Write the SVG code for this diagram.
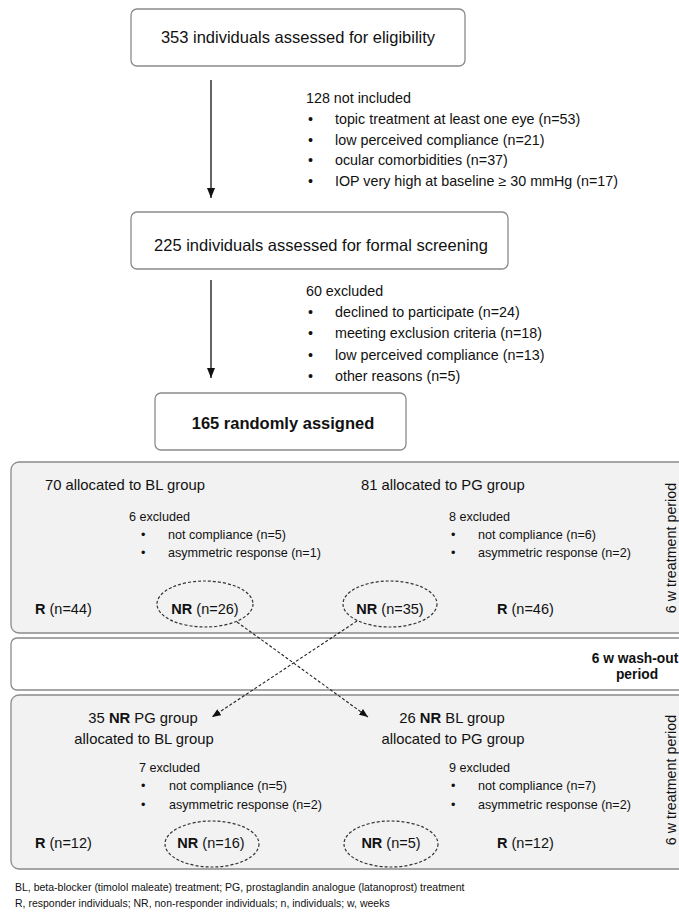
<svg xmlns="http://www.w3.org/2000/svg" width="679" height="912" viewBox="0 0 679 912">
<style>
text{font-family:"Liberation Sans",Arial,sans-serif;fill:#111}
.box{fill:#fff;stroke:#8a8a8a;stroke-width:1.3}
.gbox{fill:#f2f2f2;stroke:#8a8a8a;stroke-width:1.3}
.big{font-size:16.5px}
.sub{font-size:14.3px}
.grp{font-size:14.8px}
.exc{font-size:12.6px}
.rn{font-size:14.5px}
.foot{font-size:10.5px}
.b{font-weight:bold}
.mid{text-anchor:middle}
.ell{fill:none;stroke:#333;stroke-width:1.2;stroke-dasharray:3 2}
.solid{stroke:#111;stroke-width:1.3;fill:none}
.dash{stroke:#222;stroke-width:1.1;fill:none;stroke-dasharray:3 2}
</style>
<defs>
<marker id="ah" markerUnits="userSpaceOnUse" viewBox="0 0 10 8" markerWidth="10" markerHeight="8" refX="10" refY="4" orient="auto">
<path d="M0,0 L10,4 L0,8 z" fill="#111" stroke="none"/>
</marker>
<marker id="ah2" markerUnits="userSpaceOnUse" viewBox="0 0 10 8" markerWidth="9" markerHeight="7" refX="10" refY="4" orient="auto">
<path d="M0,0 L10,4 L0,8 z" fill="#111" stroke="none"/>
</marker>
</defs>

<g id="eligibility">
<rect class="box" x="131" y="9" width="334" height="57" rx="6"/>
<text class="big mid" x="298" y="43">353 individuals assessed for eligibility</text>
</g>

<g id="not-included">
<text class="sub" x="306" y="103">128 not included</text>
<text class="sub" x="308" y="124">•</text><text class="sub" x="335" y="124">topic treatment at least one eye (n=53)</text>
<text class="sub" x="308" y="144.5">•</text><text class="sub" x="335" y="144.5">low perceived compliance (n=21)</text>
<text class="sub" x="308" y="165">•</text><text class="sub" x="335" y="165">ocular comorbidities (n=37)</text>
<text class="sub" x="308" y="185.5">•</text><text class="sub" x="335" y="185.5">IOP very high at baseline ≥ 30 mmHg (n=17)</text>
</g>

<g id="screening">
<rect class="box" x="131" y="212" width="377" height="57" rx="6"/>
<text class="big mid" x="321" y="251">225 individuals assessed for formal screening</text>
</g>

<g id="excluded">
<text class="sub" x="306" y="295.5">60 excluded</text>
<text class="sub" x="308" y="317">•</text><text class="sub" x="335" y="317">declined to participate (n=24)</text>
<text class="sub" x="308" y="338">•</text><text class="sub" x="335" y="338">meeting exclusion criteria (n=18)</text>
<text class="sub" x="308" y="359.5">•</text><text class="sub" x="335" y="359.5">low perceived compliance (n=13)</text>
<text class="sub" x="308" y="381">•</text><text class="sub" x="335" y="381">other reasons (n=5)</text>
</g>

<g id="randomized">
<rect class="box" x="155" y="393" width="251" height="57" rx="6"/>
<text class="big b mid" x="283" y="429">165 randomly assigned</text>
</g>

<g id="period1">
<rect class="gbox" x="11" y="462" width="690" height="171" rx="8"/>
<text class="sub mid" transform="translate(676,548) rotate(-90)" x="0" y="0">6 w treatment period</text>
</g>

<g id="bl-group">
<text class="grp" x="45" y="490">70 allocated to BL group</text>
<text class="exc" x="129" y="521">6 excluded</text>
<text class="exc" x="141" y="539">•</text><text class="exc" x="168" y="539">not compliance (n=5)</text>
<text class="exc" x="141" y="557">•</text><text class="exc" x="168" y="557">asymmetric response (n=1)</text>
<text class="rn" x="35" y="614"><tspan class="b">R</tspan> (n=44)</text>
</g>
<g id="bl-nr">
<ellipse class="ell" cx="205" cy="604" rx="48" ry="23"/>
<text class="rn mid" x="205" y="614"><tspan class="b">NR</tspan> (n=26)</text>
</g>

<g id="pg-group">
<text class="grp" x="361" y="490">81 allocated to PG group</text>
<text class="exc" x="449" y="521">8 excluded</text>
<text class="exc" x="451" y="539">•</text><text class="exc" x="478" y="539">not compliance (n=6)</text>
<text class="exc" x="451" y="557">•</text><text class="exc" x="478" y="557">asymmetric response (n=2)</text>
<text class="rn" x="497" y="614"><tspan class="b">R</tspan> (n=46)</text>
</g>
<g id="pg-nr">
<ellipse class="ell" cx="390" cy="604" rx="47" ry="23"/>
<text class="rn mid" x="390" y="614"><tspan class="b">NR</tspan> (n=35)</text>
</g>

<g id="washout">
<rect class="box" x="11" y="638" width="690" height="52" rx="6"/>
<text class="sub b mid" x="635" y="663" style="font-size:13.8px">6 w wash-out</text>
<text class="sub b mid" x="637" y="679" style="font-size:13.8px">period</text>
</g>

<g id="period2">
<rect class="gbox" x="11" y="695" width="690" height="174" rx="8"/>
<text class="sub mid" transform="translate(676,780) rotate(-90)" x="0" y="0">6 w treatment period</text>
</g>

<g id="nr-pg-to-bl">
<text class="grp mid" x="143" y="723">35 <tspan class="b">NR</tspan> PG group</text>
<text class="grp mid" x="144" y="744">allocated to BL group</text>
<text class="exc" x="139" y="772">7 excluded</text>
<text class="exc" x="141" y="790">•</text><text class="exc" x="169" y="790">not compliance (n=5)</text>
<text class="exc" x="141" y="809">•</text><text class="exc" x="169" y="809">asymmetric response (n=2)</text>
<text class="rn" x="35" y="848"><tspan class="b">R</tspan> (n=12)</text>
</g>
<g id="nr16">
<ellipse class="ell" cx="212" cy="844" rx="47" ry="23"/>
<text class="rn mid" x="211" y="848"><tspan class="b">NR</tspan> (n=16)</text>
</g>

<g id="nr-bl-to-pg">
<text class="grp mid" x="452" y="723">26 <tspan class="b">NR</tspan> BL group</text>
<text class="grp mid" x="453" y="744">allocated to PG group</text>
<text class="exc" x="449" y="772">9 excluded</text>
<text class="exc" x="451" y="790">•</text><text class="exc" x="478" y="790">not compliance (n=7)</text>
<text class="exc" x="451" y="809">•</text><text class="exc" x="478" y="809">asymmetric response (n=2)</text>
<text class="rn" x="497" y="848"><tspan class="b">R</tspan> (n=12)</text>
</g>
<g id="nr5">
<ellipse class="ell" cx="391" cy="844" rx="47" ry="23"/>
<text class="rn mid" x="391" y="848"><tspan class="b">NR</tspan> (n=5)</text>
</g>

<g id="connectors">
<line class="solid" x1="211" y1="80" x2="211" y2="198" marker-end="url(#ah)"/>
<line class="solid" x1="211" y1="280" x2="211" y2="378" marker-end="url(#ah)"/>
<line class="dash" x1="237" y1="622" x2="368" y2="717" marker-end="url(#ah2)"/>
<line class="dash" x1="357" y1="621" x2="212" y2="717" marker-end="url(#ah2)"/>
</g>

<g id="footnote">
<text class="foot" x="15" y="891">BL, beta-blocker (timolol maleate) treatment; PG, prostaglandin analogue (latanoprost) treatment</text>
<text class="foot" x="15" y="907">R, responder individuals; NR, non-responder individuals; n, individuals; w, weeks</text>
</g>
</svg>
